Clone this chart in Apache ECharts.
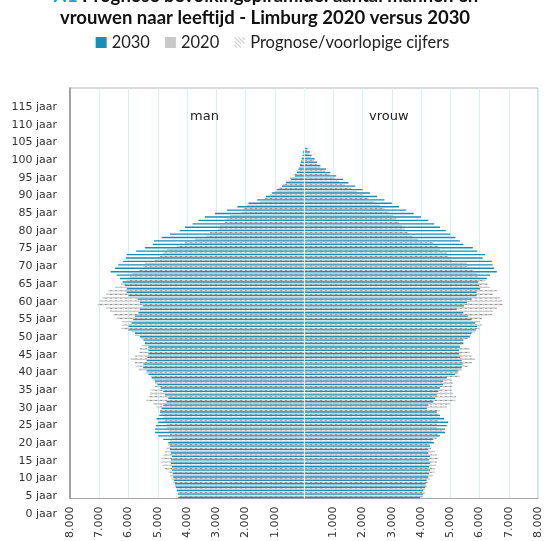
<!DOCTYPE html>
<html lang="nl">
<head>
<meta charset="UTF-8">
<title>Bevolkingspiramide Limburg 2020 versus 2030</title>
<script src="https://cdn.jsdelivr.net/npm/echarts@6.0.0/dist/echarts.min.js"></script>
<style>
    html, body { margin: 0; padding: 0; background: #fff; }
    #box { width: 545px; height: 541px; }
</style>
</head>
<body>
<div id="box"></div>
<script>
// leeftijden 0..119 (categorie-as), labels om de 5 jaar
var ages = [];
for (var i = 0; i < 120; i++) ages.push(i);

// mannen (positief opgeslagen, links getekend)
var man2030 = [4300,4320,4350,4380,4410,4450,4470,4490,4520,4520,
    4550,4550,4520,4550,4580,4580,4640,4810,4980,5090,
    5090,5060,4980,5040,4950,4920,4870,4810,4700,4640,
    4750,4810,4900,5010,5090,5210,5320,5380,5500,5490,
    5380,5350,5320,5320,5320,5440,5490,5610,5780,6000,
    6000,5890,5840,5780,5660,5610,5510,5610,5690,6000,
    6060,6060,6130,6200,6290,6400,6610,6460,6350,6180,
    6085,6060,5740,5440,5170,5130,4865,4580,4250,4070,
    3810,3610,3390,3040,2640,2280,1900,1600,1300,1100,
    930,760,615,440,310,250,190,140,110,80,
    50,40];
var man2020 = [4240,4300,4350,4410,4470,4520,4580,4640,4750,4840,
    4870,4870,4810,4750,4690,4640,4580,4520,4580,4640,
    4690,4690,4750,4810,4870,4920,5040,5150,5380,5320,
    5260,5210,5100,5100,5150,5210,5380,5660,5720,5780,
    5920,5780,5630,5610,5550,5440,5550,5780,5890,6230,
    6230,6230,6400,6520,6630,6750,7060,6970,6890,6750,
    6690,6460,6250,6060,5950,5890,5660,5490,5440,5090,
    4920,4830,4690,4350,4070,3730,3330,3210,2930,2870,
    2700,2640,2530,2130,2070,1960,1500,1350,1150,1000,
    850,720,600,480,360,250,190,140,100,70,
    40,20];
// vrouwen (rechts)
var vrouw2030 = [3970,4080,4080,4140,4160,4190,4250,4280,4310,4280,
    4310,4280,4310,4250,4250,4310,4440,4420,4650,4820,
    4820,4880,4930,4790,4650,4540,4200,4250,4420,4480,
    4540,4590,4650,4760,4760,4880,5160,5280,5390,5420,
    5390,5330,5300,5300,5330,5450,5450,5670,5730,5880,
    5920,5850,5730,5600,5450,5220,5470,5570,5730,5900,
    5900,6020,5990,5960,6250,6360,6590,6500,6450,6420,
    6110,6190,5920,5770,5450,5330,5180,5000,4850,4650,
    4450,4250,4000,3750,3500,3250,3000,2750,2500,2250,
    2000,1750,1520,1340,1100,900,750,560,450,370,
    260,200,120];
var vrouw2020 = [4080,4140,4140,4200,4250,4310,4420,4480,4480,4510,
    4540,4590,4540,4480,4340,4300,4370,4540,4590,4710,
    4540,4540,4590,4650,4590,4650,4880,4990,5170,5200,
    5100,5050,5050,5100,5050,5330,5280,5390,5620,5730,
    5850,5730,5670,5670,5330,5450,5610,5700,5850,6020,
    6080,6020,6080,6420,6470,6590,6810,6780,6700,6470,
    6590,6360,6280,6190,5960,5900,5790,5560,5560,5050,
    4930,4880,4650,4590,4420,3910,3680,3550,3450,3350,
    3250,3150,3050,2900,2750,2600,2400,2200,2000,1800,
    1600,1400,1200,1050,880,720,560,430,330,240,
    170,100,50];

var xTicks = { min: -8000, max: 8000, step: 1000 };
var yTicks = { min: 0, max: 115, step: 5 };

var teal = '#178db7';
var grey = '#c9c9c9';

function fmtThousand(v) {
    if (v === 0) return '';
    var s = String(Math.abs(v));
    return s.replace(/\B(?=(\d{3})+(?!\d))/g, '.');
}

var chartDom = document.getElementById('box');
var myChart = echarts.init(chartDom, null, { renderer: 'canvas' });

// gestreept icoon voor "Prognose/voorlopige cijfers"
var hatch = 'path://M0,1L1,0L9,8L8,9Z M0,6L1,5L9,13L8,14Z M5,1L6,0L14,8L13,9Z M0,11L1,10L4,13L3,14Z M10,1L11,0L14,3L13,4Z';

var option = {
    animation: false,
    title: {
        text: '{b|7.1} Prognose bevolkingspiramide: aantal mannen en\nvrouwen naar leeftijd - Limburg 2020 versus 2030',
        left: 265,
        top: -15,
        padding: 0,
        textAlign: 'center',
        textStyle: {
            fontFamily: 'Lato',
            fontWeight: 'bold',
            fontSize: 18.5,
            color: '#111',
            lineHeight: 22,
            rich: {
                b: { fontFamily: 'Lato', fontWeight: 'bold', fontSize: 18.5, color: '#0aa0dc', lineHeight: 22 }
            }
        }
    },
    legend: {
        top: 29,
        left: 'center',
        itemWidth: 11,
        itemHeight: 11,
        itemGap: 15,
        textStyle: { fontFamily: 'Lato', fontSize: 16.5, color: '#222' },
        data: [
            { name: '2030', icon: 'rect', itemStyle: { color: teal } },
            { name: '2020', icon: 'rect', itemStyle: { color: grey, decal: 'none' } },
            { name: 'Prognose/voorlopige cijfers', icon: hatch, itemStyle: { color: '#cdcdcd' } }
        ]
    },
    graphic: [
        { type: 'text', z: 100, left: 190, top: 110, style: { text: 'man', font: '13px "DejaVu Sans"', fill: '#222' } },
        { type: 'text', z: 100, left: 369, top: 110, style: { text: 'vrouw', font: '13px "DejaVu Sans"', fill: '#222' } }
    ],
    grid: [
        { left: 70, right: 7, top: 88, bottom: 33, show: true, borderColor: '#b4b4b4', borderWidth: 1 },
        { left: 70, right: 7, top: 107, bottom: 27 }
    ],
    xAxis: [
        {
            type: 'value',
            gridIndex: 0,
            min: xTicks.min,
            max: xTicks.max,
            interval: xTicks.step,
            axisLine: { show: true, lineStyle: { color: '#a8a8a8' } },
            axisTick: { show: false },
            splitLine: { show: true, lineStyle: { color: '#d4f1fb', width: 1 } },
            axisLabel: {
                rotate: 90,
                margin: 8,
                fontFamily: 'DejaVu Sans',
                fontSize: 11,
                color: '#333',
                formatter: fmtThousand
            }
        },
        { type: 'value', gridIndex: 1, show: false, min: 0, max: 1 }
    ],
    yAxis: [
        {
            type: 'category',
            gridIndex: 0,
            data: ages,
            axisLine: { show: true, onZero: false, lineStyle: { color: '#8c8c8c', width: 1.5 } },
            axisTick: { show: false },
            axisLabel: { show: false },
            splitLine: { show: false }
        },
        {
            type: 'value',
            gridIndex: 1,
            min: yTicks.min,
            max: yTicks.max,
            interval: yTicks.step,
            axisLine: { show: false },
            axisTick: { show: false },
            splitLine: { show: false },
            axisLabel: {
                margin: 13,
                fontFamily: 'DejaVu Sans',
                fontSize: 11,
                color: '#333',
                formatter: '{value} jaar'
            }
        }
    ],
    series: [
        {
            name: '2020', type: 'bar', stack: 's2020',
            barCategoryGap: '20%', barGap: '0%',
            data: man2020.map(function (v) { return -v; }),
            itemStyle: {
                color: grey,
                decal: { symbol: 'rect', symbolSize: 1, color: 'rgba(110,110,110,0.55)', dashArrayX: [2, 3], dashArrayY: [1, 1], rotation: 0 }
            }
        },
        {
            name: '2020', type: 'bar', stack: 's2020',
            data: vrouw2020,
            itemStyle: {
                color: grey,
                decal: { symbol: 'rect', symbolSize: 1, color: 'rgba(110,110,110,0.55)', dashArrayX: [2, 3], dashArrayY: [1, 1], rotation: 0 }
            }
        },
        {
            name: '2030', type: 'bar', stack: 's2030',
            data: man2030.map(function (v) { return -v; }),
            itemStyle: { color: teal }
        },
        {
            name: '2030', type: 'bar', stack: 's2030',
            data: vrouw2030,
            itemStyle: { color: teal },
            markLine: {
                silent: true,
                symbol: 'none',
                label: { show: false },
                lineStyle: { color: '#e6f8fe', width: 1.2, type: 'solid' },
                data: [{ xAxis: 0 }]
            }
        },
        {
            name: 'Prognose/voorlopige cijfers', type: 'line', data: [],
            itemStyle: { color: '#cdcdcd' }
        }
    ]
};

option && myChart.setOption(option);
</script>
</body>
</html>
